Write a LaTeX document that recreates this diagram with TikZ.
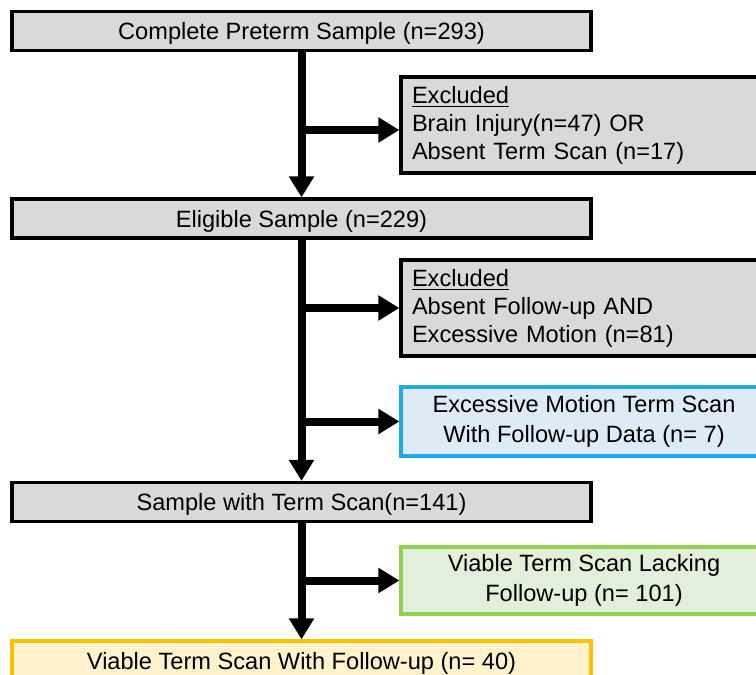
\documentclass[tikz,border=0pt]{standalone}
\usepackage{fontspec}
\setmainfont{Liberation Sans}
\usetikzlibrary{arrows.meta, positioning}
\tikzset{>={Triangle[length=10.5pt, width=12pt]}}

\definecolor{boxgray}{RGB}{217,217,217}
\definecolor{motionline}{RGB}{30,170,226}
\definecolor{motionfill}{RGB}{221,235,247}
\definecolor{lackline}{RGB}{146,208,80}
\definecolor{lackfill}{RGB}{226,239,218}
\definecolor{finalline}{RGB}{255,192,0}
\definecolor{finalfill}{RGB}{255,242,204}

\begin{document}
\begin{tikzpicture}[x=0.5pt, y=-0.5pt,
    flow/.style={line width=4pt},
    mainbox/.style={draw, line width=1.6pt, fill=boxgray, minimum width=289.5pt,
        minimum height=19.5pt, inner sep=0pt, text height=8.5pt, text depth=0pt,
        font=\fontsize{11.8pt}{14pt}\selectfont},
    finalbox/.style={mainbox, draw=finalline, fill=finalfill},
    exclbox/.style={draw, line width=1.6pt, fill=boxgray, text width=172pt, inner xsep=5.5pt,
        inner ysep=0pt, minimum height=48pt, align=left, font=\fontsize{11.8pt}{14pt}\selectfont},
    motionbox/.style={draw=motionline, line width=1.6pt, fill=motionfill, minimum width=183pt,
        minimum height=34.5pt, inner sep=0pt, align=center, font=\fontsize{11.8pt}{15pt}\selectfont},
    lackbox/.style={motionbox, draw=lackline, fill=lackfill, minimum height=33.5pt}]
    \useasboundingbox (0,0) rectangle (756,675);
    \clip (0,0) rectangle (756,675);
    % main column
    \node[mainbox] (full) at (301.5,31) {Complete Preterm Sample (n=293)};
    \node[mainbox] (elig) at (301.5,218.5) {Eligible Sample (n=229)};
    \node[mainbox] (term) at (301.5,502) {Sample with Term Scan(n=141)};
    \node[finalbox] (viable) at (301.5,660.5) {Viable Term Scan With Follow-up (n= 40)};
    % side boxes
    \node[exclbox] (excla) at (584,125) {\underline{Excluded}\\Brain Injury(n=47) OR\\Absent Term Scan (n=17)};
    \node[exclbox] (exclb) at (584,308) {\underline{Excluded}\\Absent Follow-up AND\\Excessive Motion (n=81)};
    \node[motionbox] (motion) at (584,421.5) {Excessive Motion Term Scan\\With Follow-up Data (n= 7)};
    \node[lackbox] (lacking) at (584,580.5) {Viable Term Scan Lacking\\Follow-up (n= 101)};
    % arrows
    \coordinate (forka) at (301.5,130);
    \draw[flow, ->] (full) -- (elig);
    \draw[flow, ->] (elig) -- (term);
    \draw[flow, ->] (term) -- (viable);
    \draw[flow, ->] (forka) -- (forka -| excla.west);
    \draw[flow, ->] (elig.south |- exclb) -- (exclb);
    \draw[flow, ->] (elig.south |- motion) -- (motion);
    \draw[flow, ->] (term.south |- lacking) -- (lacking);
\end{tikzpicture}
\end{document}
